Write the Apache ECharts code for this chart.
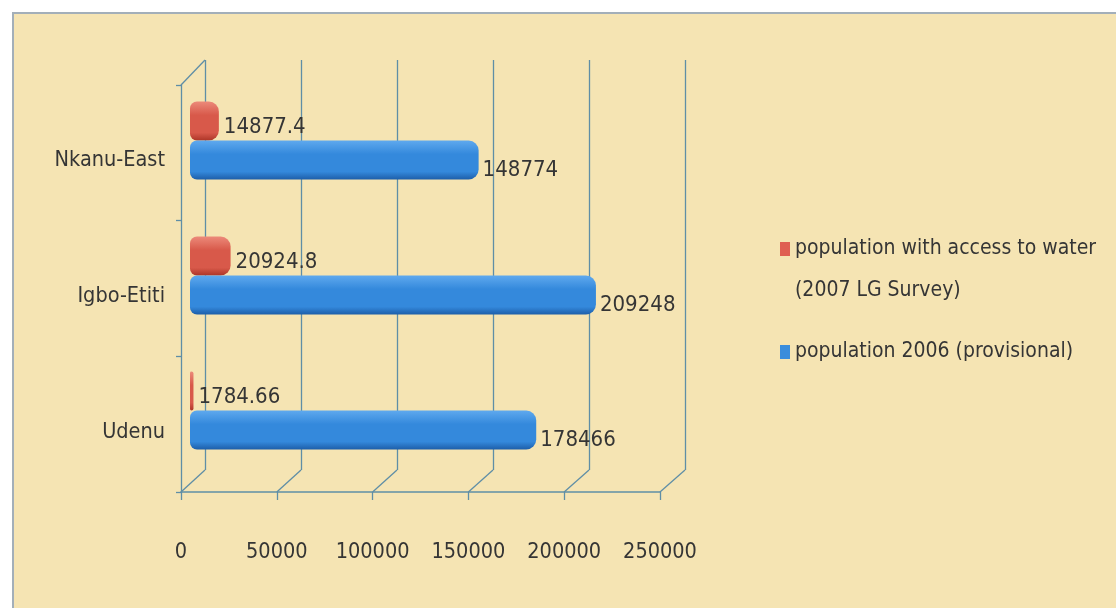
<!DOCTYPE html>
<html>
<head>
<meta charset="utf-8">
<script src="https://cdn.jsdelivr.net/npm/echarts@6/dist/echarts.min.js"></script>
<style>
  html, body { margin: 0; padding: 0; background: #ffffff; }
  #wrap { position: relative; width: 1116px; height: 613px; overflow: hidden; background: #ffffff; }
  #paper { position: absolute; left: 12px; top: 12px; width: 1104px; height: 596px;
           background: #f5e4b3; border-top: 2px solid #a3afb9; border-left: 2px solid #a3afb9; box-sizing: border-box; }
  #chart { position: absolute; left: 0; top: 0; width: 1116px; height: 613px; }
</style>
</head>
<body>
<div id="wrap">
  <div id="paper"></div>
  <div id="chart"></div>
</div>
<script>
// ---- data ----
const categories = ['Udenu', 'Igbo-Etiti', 'Nkanu-East'];
const population2006 = [178466, 209248, 148774];
const waterAccess = [1784.66, 20924.8, 14877.4];
const seriesNames = ['population with access to water (2007 LG Survey)', 'population 2006 (provisional)'];
const xMin = 0, xMax = 250000, xInterval = 50000;

// ---- layout ----
const FONT = "'DejaVu Sans Condensed', 'DejaVu Sans', sans-serif";
const FS = 21.5;
const GRID_COLOR = '#5f8ea6';
const TEXT_COLOR = '#353535';
const back = { left: 205, top: 60, width: 480, height: 410 };
const front = { left: 181, top: 85, width: 479, height: 407 };
const bars = { left: 190, top: 73, width: 485, height: 405 };

const chart = echarts.init(document.getElementById('chart'), null, { renderer: 'canvas' });

function cyl(top, mid, bottom) {
  return new echarts.graphic.LinearGradient(0, 0, 0, 1, [
    { offset: 0, color: top },
    { offset: 0.35, color: mid },
    { offset: 0.8, color: mid },
    { offset: 1, color: bottom }
  ]);
}

const valueAxisBase = { type: 'value', min: xMin, max: xMax, interval: xInterval };

chart.setOption({
  animation: false,
  backgroundColor: 'transparent',
  grid: [
    Object.assign({}, back),
    Object.assign({}, front),
    Object.assign({}, bars)
  ],
  xAxis: [
    Object.assign({}, valueAxisBase, {
      gridIndex: 0,
      axisLine: { show: false }, axisTick: { show: false }, axisLabel: { show: false },
      splitLine: { show: true, lineStyle: { color: GRID_COLOR, width: 1.3 } }
    }),
    Object.assign({}, valueAxisBase, {
      gridIndex: 1,
      axisLine: { show: true, lineStyle: { color: GRID_COLOR, width: 1.6 } },
      axisTick: { show: true, length: 8, lineStyle: { color: GRID_COLOR, width: 1.3 } },
      axisLabel: { show: true, margin: 49, fontSize: FS, fontFamily: FONT, color: TEXT_COLOR,
                   formatter: v => String(v) },
      splitLine: { show: false }
    }),
    Object.assign({}, valueAxisBase, { gridIndex: 2, show: false })
  ],
  yAxis: [
    { type: 'value', gridIndex: 0, show: false },
    {
      type: 'category', gridIndex: 1, data: categories,
      axisLine: { show: true, lineStyle: { color: GRID_COLOR, width: 1.3 } },
      axisTick: { show: true, length: 5, lineStyle: { color: GRID_COLOR, width: 1.3 } },
      axisLabel: { show: true, margin: 16, fontSize: FS, fontFamily: FONT, color: TEXT_COLOR,
                   verticalAlign: 'top', lineHeight: 16 }
    },
    { type: 'category', gridIndex: 2, data: categories, show: false }
  ],
  legend: [
    {
      left: 775, top: 223, orient: 'vertical',
      itemWidth: 10, itemHeight: 84,
      data: [{ name: seriesNames[0],
               icon: 'path://M0,0h0.01v0.01h-0.01zM0,14h10v14h-10zM0,84h0.01v0.01h-0.01z',
               itemStyle: { color: '#df5f52' } }],
      formatter: n => n.replace(' (2007', '\n(2007'),
      textStyle: { fontSize: 21, lineHeight: 42, fontFamily: FONT, color: TEXT_COLOR },
      selectedMode: false
    },
    {
      left: 775, top: 326, orient: 'vertical',
      itemWidth: 10, itemHeight: 14,
      data: [{ name: seriesNames[1], icon: 'rect', itemStyle: { color: '#3a8ddc' } }],
      textStyle: { fontSize: 21, lineHeight: 42, fontFamily: FONT, color: TEXT_COLOR },
      selectedMode: false
    }
  ],
  series: [
    {
      name: seriesNames[0], type: 'bar', xAxisIndex: 2, yAxisIndex: 2,
      data: waterAccess, barWidth: 39, barGap: '0%', z: 5,
      itemStyle: { color: cyl('#ec8a7a', '#d8594a', '#ad3628'), borderRadius: [7, 10, 10, 7] },
      label: { show: true, position: 'right', distance: 5, offset: [0, 6],
               fontSize: FS + 0.5, fontFamily: FONT, color: TEXT_COLOR, formatter: p => String(p.value) }
    },
    {
      name: seriesNames[1], type: 'bar', xAxisIndex: 2, yAxisIndex: 2,
      data: population2006, barWidth: 39, barGap: '0%', z: 5,
      itemStyle: { color: cyl('#5fa9ee', '#3489dc', '#1d5ea9'), borderRadius: [7, 10, 10, 7] },
      label: { show: true, position: 'right', distance: 4, offset: [0, 10],
               fontSize: FS + 0.5, fontFamily: FONT, color: TEXT_COLOR, formatter: p => String(p.value) }
    }
  ]
});

// depth (floor) lines joining front-axis ticks to back-wall gridlines, plus top-left wall edge
const gfx = [];
const frontY = front.top + front.height;
const backY = back.top + back.height;
for (let v = xMin; v <= xMax; v += xInterval) {
  const fx = chart.convertToPixel({ xAxisIndex: 1 }, v);
  const bx = chart.convertToPixel({ xAxisIndex: 0 }, v);
  gfx.push({ type: 'line', z: 1, silent: true,
             shape: { x1: fx, y1: frontY, x2: bx, y2: backY },
             style: { stroke: GRID_COLOR, lineWidth: 1.3 } });
}
gfx.push({ type: 'line', z: 1, silent: true,
           shape: { x1: chart.convertToPixel({ xAxisIndex: 1 }, xMin), y1: front.top,
                    x2: chart.convertToPixel({ xAxisIndex: 0 }, xMin), y2: back.top },
           style: { stroke: GRID_COLOR, lineWidth: 1.3 } });
chart.setOption({ graphic: gfx });
</script>
</body>
</html>
